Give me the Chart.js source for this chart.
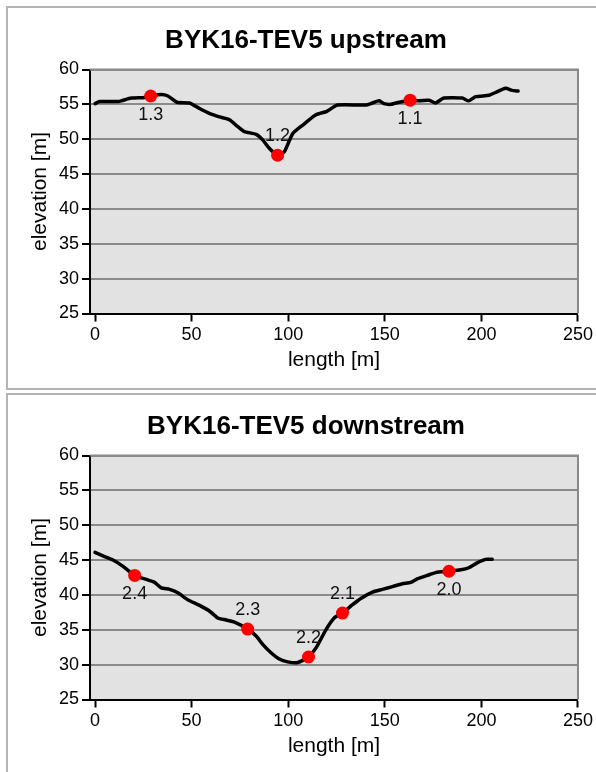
<!DOCTYPE html>
<html>
<head>
<meta charset="utf-8">
<script src="https://cdn.jsdelivr.net/npm/chart.js@4/dist/chart.umd.min.js"></script>
<style>
  html, body { margin: 0; padding: 0; background: #fff; overflow: hidden; }
  body { position: relative; width: 596px; height: 772px; }
  .panel { position: absolute; left: 6px; width: 620px; box-sizing: border-box; border: 2px solid #b4b4b4; }
  #panelUp { top: 6px; height: 384px; }
  #panelDown { top: 393px; height: 420px; }
  canvas { position: absolute; left: 0; }
  #upChart { top: 0; }
  #downChart { top: 386px; }
</style>
</head>
<body>
<div class="panel" id="panelUp"></div>
<div class="panel" id="panelDown"></div>
<canvas id="upChart" width="596" height="386"></canvas>
<canvas id="downChart" width="596" height="386"></canvas>

<script>
// --- profile data ---
const upLength = [0, 2.4, 11.9, 13.6, 18.8, 25.7, 28.8, 34.3, 37.7, 42.4, 48.9, 54.1, 59.2, 64.4, 69.6, 73.9, 77.3, 83.4, 86.8, 90.2, 94.5, 98.0, 102.3, 107.4, 114.4, 120.0, 125.5, 140.2, 143.6, 147.1, 149.6, 153.1, 155.7, 163.1, 167.7, 172.9, 176.3, 180.6, 190.1, 193.5, 197.0, 203.9, 207.3, 212.5, 215.9, 219.0];
const upElev = [55.1, 55.4, 55.4, 55.5, 55.9, 56.0, 56.2, 56.4, 56.2, 55.3, 55.2, 54.4, 53.7, 53.2, 52.8, 51.8, 51.1, 50.7, 49.9, 48.7, 47.7, 48.2, 50.8, 52.0, 53.5, 54.0, 54.9, 54.9, 55.2, 55.5, 55.1, 55.0, 55.2, 55.6, 55.5, 55.6, 55.2, 55.9, 55.9, 55.5, 56.1, 56.3, 56.7, 57.3, 57.0, 56.9];

const downLength = [0, 4.1, 9.3, 14.5, 20.5, 25.7, 30.8, 34.3, 38.6, 42.9, 48.0, 54.1, 59.2, 63.5, 67.9, 72.2, 79.0, 83.4, 86.8, 91.1, 95.4, 99.7, 104.9, 110.5, 114.4, 119.5, 123.8, 128.1, 133.3, 137.6, 143.6, 148.8, 154.0, 159.1, 163.4, 166.8, 172.0, 176.3, 183.2, 189.3, 193.5, 197.8, 202.2, 205.6];
const downElev = [46.1, 45.6, 45.0, 44.1, 42.8, 42.3, 41.8, 41.0, 40.8, 40.3, 39.3, 38.5, 37.7, 36.7, 36.4, 36.1, 35.1, 34.1, 32.9, 31.7, 30.8, 30.4, 30.3, 31.1, 32.4, 35.0, 36.7, 37.4, 38.6, 39.5, 40.4, 40.8, 41.2, 41.6, 41.8, 42.3, 42.8, 43.2, 43.4, 43.6, 43.9, 44.6, 45.1, 45.1];

// survey points
const upPtLabels = ['1.3', '1.2', '1.1'];
const upPtLength = [28.8, 94.5, 163.1];
const upPtElev = [56.2, 47.7, 55.6];
const upPtPlace = ['below', 'above', 'below'];

const downPtLabels = ['2.4', '2.3', '2.2', '2.1', '2.0'];
const downPtLength = [20.5, 79.0, 110.5, 128.1, 183.2];
const downPtElev = [42.8, 35.1, 31.1, 37.4, 43.4];
const downPtPlace = ['below', 'above', 'above', 'above', 'below'];

// axis ticks
const lengthTicks = [0, 50, 100, 150, 200, 250];
const elevTicks = [25, 30, 35, 40, 45, 50, 55, 60];

const FONT = "'Liberation Sans', Arial, Helvetica, sans-serif";
Chart.defaults.font.family = FONT;
Chart.defaults.color = '#000';

const toXY = (xs, ys) => xs.map((x, i) => ({ x, y: ys[i] }));

// grey plot area plus the grey frame on the top/right
const plotFrame = {
  id: 'plotFrame',
  beforeDraw(chart) {
    const { ctx, chartArea: a } = chart;
    ctx.save();
    ctx.fillStyle = '#e2e2e2';
    ctx.fillRect(a.left, a.top, a.right - a.left, a.bottom - a.top);
    ctx.restore();
  },
  beforeDatasetsDraw(chart) {
    const { ctx, chartArea: a } = chart;
    ctx.save();
    ctx.strokeStyle = '#8a8a8a';
    ctx.lineWidth = 2;
    ctx.beginPath();
    ctx.moveTo(a.left, a.top);
    ctx.lineTo(a.right, a.top);
    ctx.lineTo(a.right, a.bottom);
    ctx.stroke();
    ctx.restore();
  }
};

// chart heading, centred on the panel
const headline = {
  id: 'headline',
  afterDraw(chart, args, opts) {
    const ctx = chart.ctx;
    ctx.save();
    ctx.font = `bold ${opts.size}px ${FONT}`;
    ctx.fillStyle = '#000';
    ctx.textAlign = 'center';
    ctx.textBaseline = 'middle';
    ctx.fillText(opts.text, opts.x, opts.y);
    ctx.restore();
  }
};

// point names next to the red markers
const pointTags = {
  id: 'pointTags',
  afterDatasetsDraw(chart, args, opts) {
    const meta = chart.getDatasetMeta(0);
    const ctx = chart.ctx;
    ctx.save();
    ctx.font = `18px ${FONT}`;
    ctx.fillStyle = '#111';
    ctx.textAlign = 'center';
    ctx.textBaseline = 'middle';
    meta.data.forEach((pt, i) => {
      const dy = opts.place[i] === 'above' ? -opts.offset : opts.offset;
      ctx.fillText(opts.labels[i], pt.x, pt.y + dy);
    });
    ctx.restore();
  }
};

const makeChart = (id, title, lengths, elevs, ptLength, ptElev, ptLabels, ptPlace) => {
  return new Chart(document.getElementById(id), {
    type: 'scatter',
    data: {
      datasets: [
        {
          data: toXY(ptLength, ptElev),
          pointRadius: 6.5,
          pointBackgroundColor: '#ff0000',
          pointBorderWidth: 0,
          showLine: false
        },
        {
          data: toXY(lengths, elevs),
          showLine: true,
          borderColor: '#000',
          borderWidth: 3.5,
          borderJoinStyle: 'round',
          borderCapStyle: 'round',
          tension: 0.2,
          pointRadius: 0
        }
      ]
    },
    options: {
      responsive: false,
      animation: false,
      events: [],
      layout: { padding: { top: 69.5, right: 16, left: 0, bottom: 0 } },
      plugins: {
        legend: { display: false },
        tooltip: { enabled: false },
        headline: { text: title, x: 306, y: 40.5, size: 26 },
        pointTags: { labels: ptLabels, place: ptPlace, offset: 19 }
      },
      scales: {
        x: {
          type: 'linear',
          position: 'bottom',
          min: -2.6,
          max: 250,
          afterBuildTicks: s => { s.ticks = lengthTicks.map(v => ({ value: v })); },
          afterFit: s => { s.height = 72.5; },
          grid: { drawOnChartArea: false, drawTicks: true, tickLength: 8, tickColor: '#000', tickWidth: 2 },
          border: { color: '#000', width: 2 },
          ticks: { font: { size: 18 }, color: '#000', padding: 3, maxRotation: 0, autoSkip: false },
          title: { display: true, text: 'length [m]', font: { size: 21 }, color: '#000', padding: { top: 0, bottom: 13 } }
        },
        y: {
          type: 'linear',
          min: 25,
          max: 60,
          afterBuildTicks: s => { s.ticks = elevTicks.map(v => ({ value: v })); },
          afterFit: s => { s.width = 90; },
          grid: { color: '#8a8a8a', lineWidth: 2, drawTicks: true, tickLength: 8, tickColor: '#000', tickWidth: 2 },
          border: { color: '#000', width: 2 },
          ticks: { font: { size: 18 }, color: '#000', padding: 3, autoSkip: false },
          title: { display: true, text: 'elevation [m]', font: { size: 21 }, color: '#000', padding: { top: 28, bottom: 0 } }
        }
      }
    },
    plugins: [plotFrame, headline, pointTags]
  });
};

makeChart('upChart', 'BYK16-TEV5 upstream', upLength, upElev, upPtLength, upPtElev, upPtLabels, upPtPlace);
makeChart('downChart', 'BYK16-TEV5 downstream', downLength, downElev, downPtLength, downPtElev, downPtLabels, downPtPlace);
</script>
</body>
</html>
